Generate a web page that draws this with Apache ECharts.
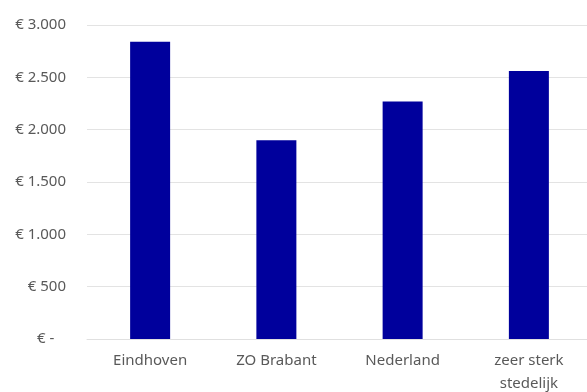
<!DOCTYPE html>
<html>
<head>
<meta charset="utf-8">
<script src="https://cdn.jsdelivr.net/npm/echarts@6/dist/echarts.min.js"></script>
<style>
  html, body { margin: 0; padding: 0; background: #fff; }
  #chart { width: 587px; height: 392px; }
</style>
</head>
<body>
<div id="chart"></div>
<script>
// Regions compared
const categories = ['Eindhoven', 'ZO Brabant', 'Nederland', 'zeer sterk\nstedelijk'];
// Amount per region (euro)
const values = [2840, 1900, 2270, 2560];
// Value axis range
const yMin = 0;
const yMax = 3000;
const yStep = 500;

function euro(v) {
  if (v === 0) return '€ -   ';
  return '€ ' + v.toLocaleString('de-DE');
}

const chart = echarts.init(document.getElementById('chart'), null, { renderer: 'canvas' });
const font = '"Noto Sans", "Open Sans", sans-serif';

chart.setOption({
  animation: false,
  grid: { left: 87, top: 25, width: 505, bottom: 53, outerBoundsMode: 'none' },
  xAxis: {
    type: 'category',
    data: categories,
    axisTick: { show: false },
    axisLine: { lineStyle: { color: '#e0e0e0', width: 1 } },
    axisLabel: {
      color: '#595959',
      fontFamily: font,
      fontSize: 15,
      lineHeight: 23,
      margin: 10
    }
  },
  yAxis: {
    type: 'value',
    min: yMin,
    max: yMax,
    interval: yStep,
    axisLine: { show: false },
    axisTick: { show: false },
    splitLine: { lineStyle: { color: '#e3e3e3', width: 1 } },
    axisLabel: {
      color: '#595959',
      fontFamily: font,
      fontSize: 15,
      margin: 21,
      formatter: euro
    }
  },
  series: [{
    type: 'bar',
    data: values,
    barWidth: 40,
    itemStyle: { color: '#00009c' }
  }]
});
</script>
</body>
</html>
